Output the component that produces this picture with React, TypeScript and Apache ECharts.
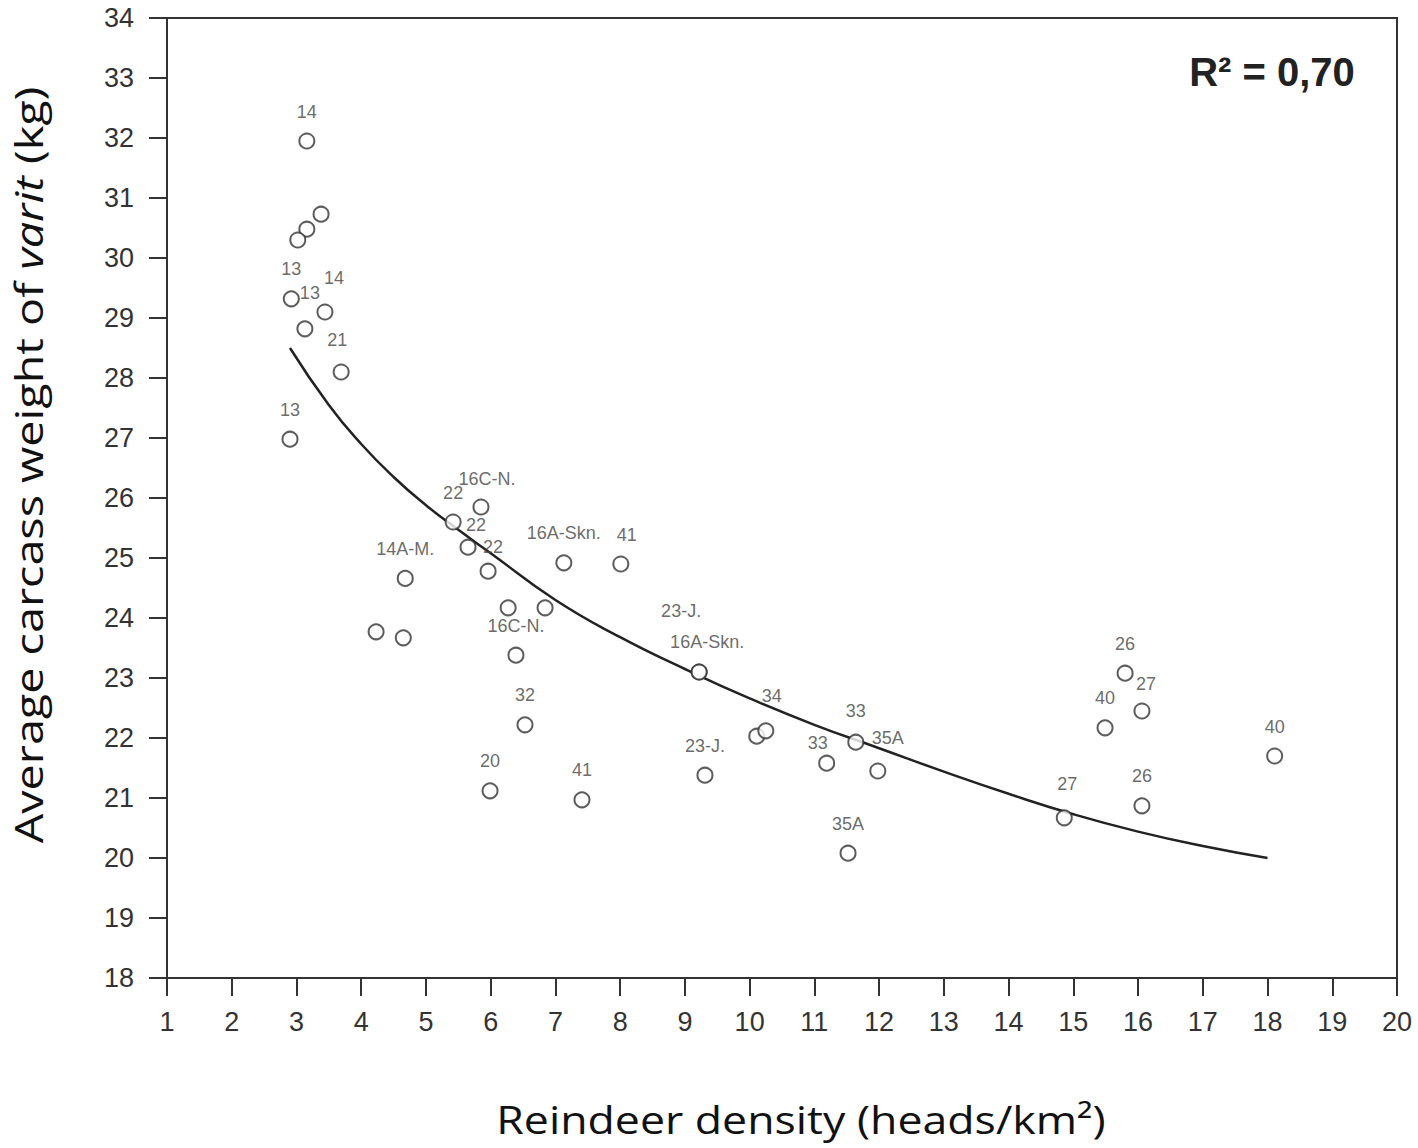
import React, { useEffect, useRef } from "react";
import * as echarts from "echarts";

// Reindeer density (heads/km²) per observation
const densityX = [
  3.16, 3.38, 3.16, 3.02, 2.92, 3.13, 3.44, 3.69, 2.9,
  5.85, 5.42, 5.65, 5.96, 4.68, 4.23, 4.65, 6.27, 6.84, 6.39, 6.53, 5.99, 7.41,
  7.13, 8.01, 9.22, 9.22, 9.31, 10.11, 10.25, 11.19, 11.64, 11.98, 11.52,
  14.86, 15.49, 15.8, 16.06, 16.06, 18.11,
];
// Average carcass weight of varit (kg)
const weightY = [
  31.95, 30.73, 30.48, 30.3, 29.32, 28.82, 29.1, 28.1, 26.98,
  25.85, 25.6, 25.18, 24.78, 24.66, 23.77, 23.67, 24.17, 24.17, 23.38, 22.22, 21.12, 20.97,
  24.92, 24.9, 23.1, 23.1, 21.38, 22.03, 22.12, 21.58, 21.93, 21.45, 20.08,
  20.67, 22.17, 23.08, 22.45, 20.87, 21.7,
];
// Herding-district labels
const areaLabels = [
  "14", "", "", "", "13", "13", "14", "21", "13",
  "16C-N.", "22", "22", "22", "14A-M.", "", "", "", "", "16C-N.", "32", "20", "41",
  "16A-Skn.", "41", "16A-Skn.", "23-J.", "23-J.", "", "34", "33", "33", "35A", "35A",
  "27", "40", "26", "27", "26", "40",
];

// Fitted trend curve
const fitX = [2.9, 3.5, 4, 4.5, 5, 5.5, 6, 7, 8, 9, 10, 11, 12, 13, 14, 15, 16, 17, 18];
const fitY = [28.5, 27.55, 26.9, 26.35, 25.88, 25.47, 25.08, 24.3, 23.68, 23.15, 22.66, 22.22, 21.83, 21.44, 21.07, 20.73, 20.44, 20.2, 20.0];

const xTickMin = 1;
const xTickMax = 20;
const yTickMin = 18;
const yTickMax = 34;
const rSquaredText = "R² = 0,70";
const xTitle = "Reindeer density (heads/km²)";
const yTitleParts = ["Average carcass weight of ", "varit", " (kg)"];

// label nudges (style only), keyed by point index
const labelNudge: Record<number, [number, number]> = {
  5: [5, -6],
  6: [9, -5],
  7: [-4, -3],
  9: [6, 1],
  11: [8, 7],
  12: [5, 5],
  23: [6, 0],
  24: [8, -1],
  25: [-18, -32],
  28: [6, -5],
  29: [-9, 9],
  30: [0, -2],
  31: [10, -4],
  33: [3, -4],
  36: [4, 2],
};

const INK = "#333333";
const TITLE_FONT = "'Open Sans'";

export default function App() {
  const ref = useRef<HTMLDivElement>(null);

  useEffect(() => {
    if (!ref.current) return;
    const chart = echarts.init(ref.current, undefined, { renderer: "svg" });

    const scatterData = densityX.map((x, i) => ({
      value: [x, weightY[i]],
      label: {
        show: areaLabels[i] !== "",
        formatter: areaLabels[i],
      },
    }));

    const axisCommon = {
      type: "value" as const,
      axisLine: { show: true, onZero: false, lineStyle: { color: INK, width: 2 } },
      axisTick: { show: true, inside: false, length: 18, lineStyle: { color: INK, width: 2 } },
      splitLine: { show: false },
    };

    chart.setOption({
      animation: false,
      backgroundColor: "#ffffff",
      grid: {
        left: 167,
        right: 21,
        top: 18,
        bottom: 170,
        show: true,
        borderColor: INK,
        borderWidth: 2,
        backgroundColor: "transparent",
      },
      xAxis: {
        ...axisCommon,
        min: xTickMin,
        max: xTickMax,
        interval: 1,
        axisLabel: {
          fontSize: 27,
          color: INK,
          fontFamily: "Liberation Sans",
          margin: 30,
        },
      },
      yAxis: {
        ...axisCommon,
        min: yTickMin,
        max: yTickMax,
        interval: 1,
        axisLabel: {
          fontSize: 27,
          color: INK,
          fontFamily: "Liberation Sans",
          margin: 33,
        },
      },
      series: [
        {
          type: "line",
          data: fitX.map((x, i) => [x, fitY[i]]),
          smooth: true,
          showSymbol: false,
          lineStyle: { color: "#222222", width: 2.5 },
          z: 2,
          silent: true,
        },
        {
          type: "scatter",
          data: scatterData,
          symbol: "circle",
          symbolSize: 15,
          itemStyle: { color: "#ffffff", borderColor: INK, borderWidth: 2 },
          label: {
            show: true,
            position: "top",
            distance: 12,
            fontSize: 18,
            color: "#444444",
            fontFamily: "Liberation Sans",
          },
          labelLayout: (params: any) => {
            const n = labelNudge[params.dataIndex];
            return n ? { dx: n[0], dy: n[1], hideOverlap: false } : { hideOverlap: false };
          },
          z: 3,
        },
      ],
      graphic: [
        {
          type: "text",
          x: 1272,
          y: 72,
          style: {
            text: rSquaredText,
            font: "bold 40px 'Liberation Sans'",
            fill: "#222222",
            align: "center",
            verticalAlign: "middle",
          },
        },
        {
          type: "text",
          x: 801,
          y: 1119,
          scaleX: 1.175,
          style: {
            text: xTitle,
            font: `38px ${TITLE_FONT}`,
            fill: "#111111",
            align: "center",
            verticalAlign: "middle",
          },
        },
        {
          type: "text",
          x: 28,
          y: 465,
          rotation: Math.PI / 2,
          scaleX: 1.23,
          style: {
            text: `{n|${yTitleParts[0]}}{i|${yTitleParts[1]}}{n|${yTitleParts[2]}}`,
            align: "center",
            verticalAlign: "middle",
            fill: "#111111",
            rich: {
              n: { fontSize: 38, fontFamily: TITLE_FONT, fill: "#111111", color: "#111111" },
              i: { fontSize: 38, fontFamily: TITLE_FONT, fontStyle: "italic", fill: "#111111", color: "#111111" },
            },
          },
        },
      ],
    });

    return () => chart.dispose();
  }, []);

  return (
    <div
      ref={ref}
      style={{ position: "absolute", left: 0, top: 0, width: 1418, height: 1148 }}
    />
  );
}
